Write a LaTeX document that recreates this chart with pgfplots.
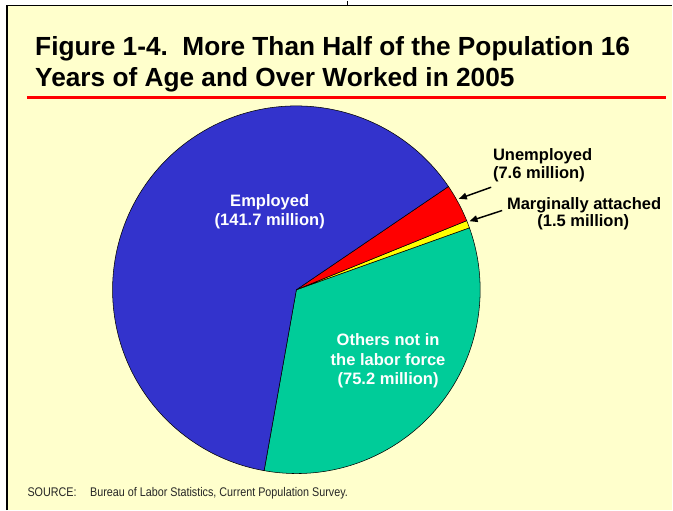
\documentclass[border=0pt]{standalone}
\usepackage{pgfplots}
\pgfplotsset{compat=1.18}
\usepackage{fontspec}
\setmainfont{Liberation Sans}
\newfontfamily\narrowfont[FakeStretch=0.86]{Liberation Sans}
\usetikzlibrary{arrows.meta}

\definecolor{bgyellow}{HTML}{FFFFCC}
\definecolor{empc}{HTML}{3333CC}
\definecolor{unempc}{HTML}{FF0000}
\definecolor{margc}{HTML}{FFFF00}
\definecolor{othc}{HTML}{00CC99}

% population 16 and over, 2005 (millions)
\def\vOther{75.2}
\def\vMarg{1.5}
\def\vUnemp{7.6}
\def\vEmp{141.7}
\pgfmathsetmacro\total{\vOther+\vMarg+\vUnemp+\vEmp}
\pgfmathsetmacro\aA{-100.1}
\pgfmathsetmacro\aB{\aA+\vOther/\total*360}
\pgfmathsetmacro\aC{\aB+\vMarg/\total*360}
\pgfmathsetmacro\aD{\aC+\vUnemp/\total*360}
\pgfmathsetmacro\aE{\aD+\vEmp/\total*360}
\def\R{138pt}

\begin{document}
\begin{tikzpicture}
\begin{axis}[
    x=0.75pt, y=0.75pt,
    xmin=0, xmax=673, ymin=0, ymax=510,
    hide axis, scale only axis, clip=false
]
% frame
\fill[white] (0,0) rectangle (673,510);
\fill[bgyellow] (7,0) rectangle (673,505);
\draw[line width=1.1pt] (7,0) -- (7,505) -- (673,505);
\draw[line width=1.1pt] (348,505) -- (348,510);

% title
\node[anchor=base west, inner sep=0, font=\fontsize{19.7}{22}\selectfont\bfseries]
    at (35,455.5) {Figure 1-4.\ \ More Than Half of the Population 16};
\node[anchor=base west, inner sep=0, font=\fontsize{19.7}{22}\selectfont\bfseries]
    at (35,424) {Years of Age and Over Worked in 2005};
\draw[unempc, line width=2.2pt] (27,413.3) -- (667,413.3);

% slices
\filldraw[fill=othc, draw=black, line width=0.4pt]
    (296.7,220.7) -- ++(\aA:\R) arc[start angle=\aA, end angle=\aB, radius=\R] -- cycle;
\filldraw[fill=margc, draw=black, line width=0.4pt]
    (296.7,220.7) -- ++(\aB:\R) arc[start angle=\aB, end angle=\aC, radius=\R] -- cycle;
\filldraw[fill=unempc, draw=black, line width=0.4pt]
    (296.7,220.7) -- ++(\aC:\R) arc[start angle=\aC, end angle=\aD, radius=\R] -- cycle;
\filldraw[fill=empc, draw=black, line width=0.4pt]
    (296.7,220.7) -- ++(\aD:\R) arc[start angle=\aD, end angle=\aE, radius=\R] -- cycle;

% slice labels
\tikzset{lab/.style={inner sep=0, font=\fontsize{12.4}{14}\selectfont\bfseries}}
\node[lab, anchor=base, text=white] at (270,304) {Employed};
\node[lab, anchor=base, text=white] at (270,285) {(141.7 million)};
\node[lab, anchor=base, text=white] at (388.5,165) {Others not in};
\node[lab, anchor=base, text=white] at (388.5,145) {the labor force};
\node[lab, anchor=base, text=white] at (388.5,126) {(75.2 million)};
\node[lab, anchor=base west] at (493.3,350) {Unemployed};
\node[lab, anchor=base west] at (493.3,332.5) {(7.6 million)};
\node[lab, anchor=base west] at (507.3,301) {Marginally attached};
\node[lab, anchor=base west] at (537.7,284) {(1.5 million)};
\draw[line width=1.1pt, -{Triangle[length=6pt,width=5pt]}] (491.7,323.3) -- (459.3,311.7);
\draw[line width=1.1pt, -{Triangle[length=6pt,width=5pt]}] (502.7,300) -- (470,289.3);

% source
\node[anchor=base west, inner sep=0, text=black!85, font=\narrowfont\fontsize{9.4}{11}\selectfont]
    at (27.3,13.3) {SOURCE:};
\node[anchor=base west, inner sep=0, text=black!85, font=\narrowfont\fontsize{9.4}{11}\selectfont]
    at (90,13.3) {Bureau of Labor Statistics, Current Population Survey.};
\end{axis}
\end{tikzpicture}
\end{document}
